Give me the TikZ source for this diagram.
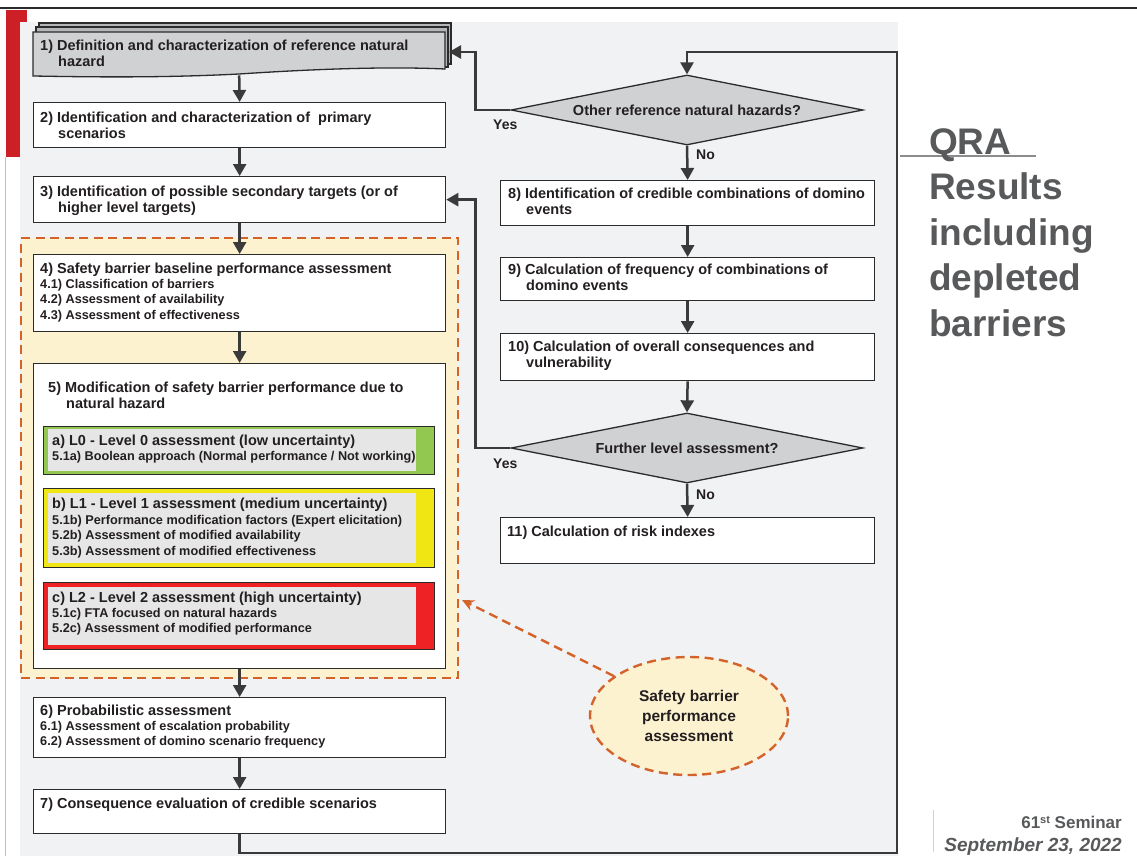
\documentclass[tikz,border=0pt]{standalone}
\usepackage{fontspec}
\setmainfont{Liberation Sans}
\usetikzlibrary{arrows.meta,shapes.geometric,calc}

\definecolor{panel}{HTML}{F1F2F4}
\definecolor{ink}{HTML}{231F20}
\definecolor{wire}{HTML}{3A3A3A}
\definecolor{frame}{HTML}{2B2B2B}
\definecolor{sheet}{HTML}{D0D1D3}
\definecolor{sheetback}{HTML}{B5B6B8}
\definecolor{zonefill}{HTML}{FDF2D0}
\definecolor{zoneline}{HTML}{D4622B}
\definecolor{lvlgreen}{HTML}{92C850}
\definecolor{lvlyellow}{HTML}{F0E614}
\definecolor{lvlred}{HTML}{EE2124}
\definecolor{lvlinner}{HTML}{E6E6E6}
\definecolor{slidegray}{HTML}{58595B}
\definecolor{slidered}{HTML}{CC1F26}

\tikzset{
  boxnode/.style={draw=frame, line width=1.3pt, fill=white, inner sep=0pt, anchor=north west},
  lvlnode/.style={draw=frame, line width=1.2pt, inner sep=0pt, anchor=north west},
  innernode/.style={fill=lvlinner, inner sep=0pt, anchor=north west},
  hd/.style={anchor=north west, inner sep=0pt, align=left, text=ink,
             font=\fontsize{14.5}{16.5}\selectfont\bfseries},
  sb/.style={anchor=north west, inner sep=0pt, align=left, text=ink,
             font=\fontsize{12.7}{15.7}\selectfont\bfseries},
  yn/.style={anchor=base west, inner sep=0pt, text=ink,
             font=\fontsize{14}{16}\selectfont\bfseries},
  decision/.style={diamond, aspect=5, draw=frame, line width=1.3pt, fill=sheet,
             inner sep=0pt, minimum width=352pt, minimum height=70pt, text=ink,
             font=\fontsize{14.5}{16.5}\selectfont\bfseries},
  flow/.style={draw=wire, line width=2.5pt, -{Triangle[length=12pt,width=13pt]}},
  orangedash/.style={draw=zoneline, line width=2.4pt, dash pattern=on 9pt off 5.5pt},
}

\begin{document}
\begin{tikzpicture}[x=1pt,y=-1pt]
\useasboundingbox (0,0) rectangle (1137,856);
\fill[white] (0,0) rectangle (1137,856);

% slide frame
\draw[frame, line width=1.3pt] (0,8) -- (1137,8);
\fill[slidered] (6,10) rectangle (27,157);
\draw[black!25, line width=0.8pt] (5,157) -- (5,856);
\fill[panel] (20,22) rectangle (898,856);

% barrier performance zone
\node[orangedash, fill=zonefill, anchor=north west, inner sep=0pt,
      minimum width=437pt, minimum height=440pt] (zone) at (20,237) {};

% step 1: stacked document
\node[anchor=north west, inner sep=0pt, minimum width=412pt, minimum height=43pt] (b1) at (33,32) {};
\filldraw[fill=sheetback, draw=frame, line width=1.1pt] (39,23) rectangle (451,64);
\filldraw[fill=sheetback, draw=frame, line width=1.1pt] (36,27) rectangle (448,67);
\filldraw[fill=sheet, draw=frame, line width=1.3pt]
  (33,32) -- (445,32) -- (445,69) .. controls (380,66) and (300,70) .. (239,74)
  .. controls (160,78) and (90,77) .. (33,76) -- cycle;
\node[hd] (t1) at (40,39.4) {1) Definition and characterization of reference natural\\\hspace*{18pt}hazard};

% left column
\node[boxnode, minimum width=412pt, minimum height=45pt] (b2) at (33,102) {};
\node[hd] (t2) at (40,111.4) {2) Identification and characterization of\ \ primary\\\hspace*{18pt}scenarios};

\node[boxnode, minimum width=412pt, minimum height=46pt] (b3) at (33,176) {};
\node[hd] (t3) at (40,185.4) {3) Identification of possible secondary targets (or of\\\hspace*{18pt}higher level targets)};

\node[boxnode, minimum width=412pt, minimum height=77pt] (b4) at (33,254) {};
\node[hd] (t4) at (40,262.4) {4) Safety barrier baseline performance assessment};
\node[sb] (t4s) at (40,278.7) {4.1) Classification of barriers\\4.2) Assessment of availability\\4.3) Assessment of effectiveness};

\node[boxnode, minimum width=412pt, minimum height=305pt] (b5) at (33,363) {};
\node[hd] (t5) at (48,381.4) {5) Modification of safety barrier performance due to\\\hspace*{18pt}natural hazard};

% uncertainty levels
\node[lvlnode, fill=lvlgreen, minimum width=391pt, minimum height=48pt] (l0) at (43,426) {};
\node[innernode, minimum width=368pt, minimum height=42pt] (l0in) at (48,429) {};
\node[hd] (tl0) at (52,434.4) {a) L0 - Level 0 assessment (low uncertainty)};
\node[sb] (tl0s) at (52,450.7) {5.1a) Boolean approach (Normal performance / Not working)};

\node[lvlnode, fill=lvlyellow, minimum width=391pt, minimum height=79pt] (l1) at (43,488) {};
\node[innernode, minimum width=368pt, minimum height=70pt] (l1in) at (48,493) {};
\node[hd] (tl1) at (52,497.4) {b) L1 - Level 1 assessment (medium uncertainty)};
\node[sb] (tl1s) at (52,514.7) {5.1b) Performance modification factors (Expert elicitation)\\5.2b) Assessment of modified availability\\5.3b) Assessment of modified effectiveness};

\node[lvlnode, fill=lvlred, minimum width=391pt, minimum height=67pt] (l2) at (43,582) {};
\node[innernode, minimum width=368pt, minimum height=58pt] (l2in) at (48,587) {};
\node[hd] (tl2) at (52,591.4) {c) L2 - Level 2 assessment (high uncertainty)};
\node[sb] (tl2s) at (52,607.7) {5.1c) FTA focused on natural hazards\\5.2c) Assessment of modified performance};

\node[boxnode, minimum width=412pt, minimum height=60pt] (b6) at (33,697) {};
\node[hd] (t6) at (40,704.4) {6) Probabilistic assessment};
\node[sb] (t6s) at (40,720.7) {6.1) Assessment of escalation probability\\6.2) Assessment of domino scenario frequency};

\node[boxnode, minimum width=412pt, minimum height=44pt] (b7) at (33,789) {};
\node[hd] (t7) at (40,797.4) {7) Consequence evaluation of credible scenarios};

% right column
\node[decision] (d1) at (687,110) {Other reference natural hazards?};

\node[boxnode, minimum width=374pt, minimum height=45pt] (b8) at (500,180) {};
\node[hd] (t8) at (508,187.4) {8) Identification of credible combinations of domino\\\hspace*{18pt}events};

\node[boxnode, minimum width=374pt, minimum height=43pt] (b9) at (500,257) {};
\node[hd] (t9) at (508,263.4) {9) Calculation of frequency of combinations of\\\hspace*{18pt}domino events};

\node[boxnode, minimum width=374pt, minimum height=47pt] (b10) at (500,333) {};
\node[hd] (t10) at (508,340.4) {10) Calculation of overall consequences and\\\hspace*{18pt}vulnerability};

\node[decision] (d2) at (687,448) {Further level assessment?};

\node[boxnode, minimum width=374pt, minimum height=46pt] (b11) at (500,517) {};
\node[hd] (t11) at (507,525.4) {11) Calculation of risk indexes};

% connectors, left column
\draw[flow] (b1.south) -- (b2.north);
\draw[flow] (b2.south) -- (b3.north);
\draw[flow] (b3.south) -- (b4.north);
\draw[flow] (b4.south) -- (b5.north);
\draw[flow] (b5.south) -- (b6.north);
\draw[flow] (b6.south) -- (b7.north);

% loop back to the decision on other hazards
\coordinate (loopbr) at (897,853);
\coordinate (looptr) at (897,52);
\draw[flow] (b7.south) |- (loopbr) -- (looptr) -| (d1.north);

% connectors, right column
\draw[flow] (d1.south) -- (b8.north);
\draw[flow] (b8.south) -- (b9.north);
\draw[flow] (b9.south) -- (b10.north);
\draw[flow] (b10.south) -- (d2.north);
\draw[flow] (d2.south) -- (b11.north);

\coordinate (b1in) at (449,52);
\draw[flow] (d1.west) -- ++(-35,0) |- (b1in);
\draw[flow] (d2.west) -- ++(-35,0) |- (b3.east);

\node[yn] (yes1) at (493,129) {Yes};
\node[yn] (no1) at (696,159) {No};
\node[yn] (yes2) at (493,468) {Yes};
\node[yn] (no2) at (696,499) {No};

% callout
\node[ellipse, orangedash, fill=zonefill, minimum width=198pt, minimum height=118pt,
      inner sep=0pt, align=center, text=ink, font=\fontsize{15.5}{20}\selectfont\bfseries]
      (note) at (689,716) {Safety barrier\\performance\\assessment};
\coordinate (zonehit) at (462,600);
\draw[orangedash, -{Stealth[length=12pt,width=11pt]}] (note.152) -- (zonehit);

% side title
\draw[black!45, line width=2pt] (900,156) -- (1036,156);
\node[anchor=north west, inner sep=0pt, align=left, text=slidegray,
      font=\fontsize{37}{45.5}\selectfont\bfseries] (qra) at (929,128)
      {QRA\\Results\\including\\depleted\\barriers};

% footer
\draw[black!18, line width=1pt] (933,810) -- (933,852);
\node[anchor=base east, inner sep=0pt, text=slidegray, font=\fontsize{17}{18}\selectfont\bfseries]
      (sem) at (1122,828) {61{\fontsize{11}{12}\selectfont\raisebox{5pt}{st}} Seminar};
\node[anchor=base east, inner sep=0pt, text=slidegray, font=\fontsize{19}{20}\selectfont\bfseries\itshape]
      (date) at (1122,851) {September 23, 2022};
\end{tikzpicture}
\end{document}
